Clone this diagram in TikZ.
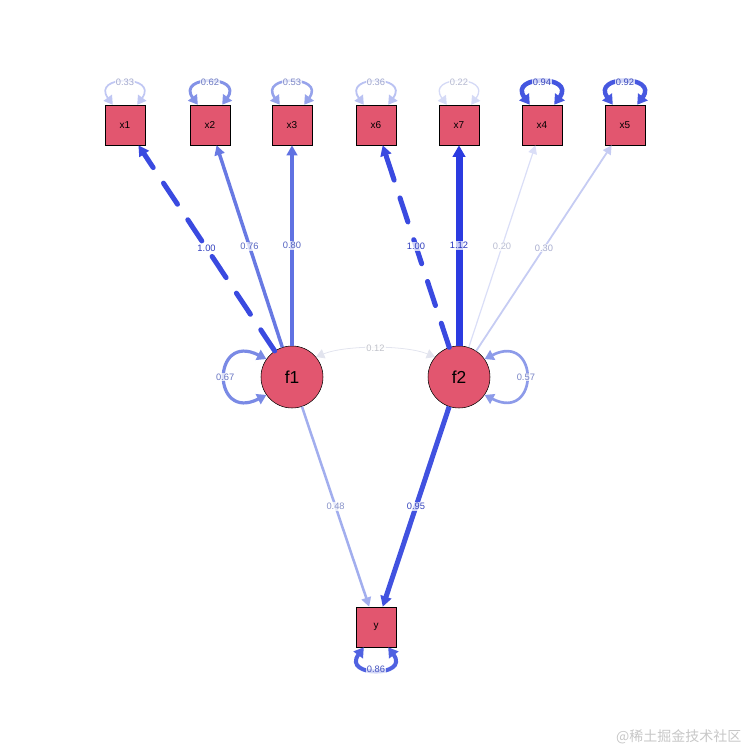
\documentclass[tikz,border=0pt]{standalone}
\usepackage{fontspec}
\setmainfont{Liberation Sans}
\newfontfamily\cjkfont{Noto Sans CJK SC}
\usetikzlibrary{arrows.meta}
\definecolor{rosefill}{HTML}{E2566F}
\definecolor{w112}{HTML}{2B3BE0}
\definecolor{w100}{HTML}{3A4AE0}
\definecolor{w095}{HTML}{4152E0}
\definecolor{w094}{HTML}{4456E0}
\definecolor{w092}{HTML}{4758E0}
\definecolor{w086}{HTML}{5062E1}
\definecolor{w080}{HTML}{6072E2}
\definecolor{w076}{HTML}{6879E3}
\definecolor{w067}{HTML}{7A8AE5}
\definecolor{w062}{HTML}{8392E7}
\definecolor{w057}{HTML}{8D9BE9}
\definecolor{w053}{HTML}{96A3EB}
\definecolor{w048}{HTML}{A2AEEE}
\definecolor{w036}{HTML}{BAC2F2}
\definecolor{w033}{HTML}{C0C7F3}
\definecolor{w030}{HTML}{C6CCF3}
\definecolor{w022}{HTML}{D5DAF6}
\definecolor{w020}{HTML}{DADEF7}
\definecolor{w012}{HTML}{E2E4EE}
\tikzset{
 man/.style={draw=black,fill=rosefill,minimum size=30pt,inner sep=0pt,font=\fontsize{7.5}{9}\selectfont},
 lat/.style={draw=black,fill=rosefill,circle,minimum size=46.5pt,inner sep=0pt,font=\fontsize{13}{15}\selectfont},
 load/.style 2 args={draw=#1,line width=#2,-{Triangle[length=6pt 0.5,width=6pt 0.6]}},
 resid/.style 2 args={draw=#1,line width=#2,{Triangle[length=6pt 0.4,width=7pt 0.5]}-{Triangle[length=6pt 0.4,width=7pt 0.5]}},
 longdash/.style={line cap=round,dash pattern=on 19pt off 14pt},
 lbl/.style={fill=white,fill opacity=0.75,text opacity=1,inner sep=0.8pt,font=\fontsize{7}{8}\selectfont,text=#1!85!black}
}
\begin{document}
\begin{tikzpicture}[x=0.75pt,y=-0.75pt]
  \useasboundingbox (0,0) rectangle (753,753);

  % indicators
  \foreach \n/\x in {x1/125,x2/210,x3/292,x6/376,x7/459,x4/542,x5/625}
    \node[man] (\n) at (\x,125) {\n};
  \node[lat] (f1) at (292,377) {f1};
  \node[lat] (f2) at (459,377) {f2};
  \node[man] (y) at (376,627) {y};

  % residual variances
  \foreach \n/\v/\c/\w in {x1/0.33/w033/1.3pt,x2/0.62/w062/2.2pt,x3/0.53/w053/1.9pt,
      x6/0.36/w036/1.4pt,x7/0.22/w022/1pt,x4/0.94/w094/3.4pt,x5/0.92/w092/3.3pt}
    \draw[resid={\c}{\w}] (\n.121) .. controls +(-22,-30) and +(22,-30) .. node[lbl=\c]{\v} (\n.59);
  \draw[resid={w086}{3pt}] (y.239) .. controls +(-22,30) and +(22,30) .. node[lbl=w086]{0.86} (y.301);
  \draw[resid={w067}{2.4pt}] (f1.145) .. controls +(-55,-28) and +(-55,28) .. node[lbl=w067]{0.67} (f1.215);
  \draw[resid={w057}{2pt}] (f2.35) .. controls +(55,-28) and +(55,28) .. node[lbl=w057]{0.57} (f2.-35);
  \draw[resid={w012}{0.6pt}] (f1.40) .. controls +(30,-12) and +(-30,-12) .. node[lbl=w012]{0.12} (f2.140);

  % loadings
  \draw[load={w100}{3.75pt},longdash] (f1) -- node[lbl=w100]{1.00} (x1);
  \draw[load={w076}{2.6pt}] (f1) -- node[lbl=w076]{0.76} (x2);
  \draw[load={w080}{3pt}] (f1) -- node[lbl=w080]{0.80} (x3);
  \draw[load={w100}{3.75pt},longdash] (f2) -- node[lbl=w100]{1.00} (x6);
  \draw[load={w112}{5.25pt}] (f2) -- node[lbl=w112]{1.12} (x7);
  \draw[load={w020}{0.9pt}] (f2) -- node[lbl=w020]{0.20} (x4);
  \draw[load={w030}{1.35pt}] (f2) -- node[lbl=w030]{0.30} (x5);

  % regressions
  \draw[load={w048}{1.9pt}] (f1) -- node[lbl=w048]{0.48} (y);
  \draw[load={w095}{3.75pt}] (f2) -- node[lbl=w095]{0.95} (y);

  \node[text=black!22,font=\cjkfont\fontsize{10.5}{12}\selectfont,anchor=east] (wm) at (746,737) {@稀土掘金技术社区};
\end{tikzpicture}
\end{document}
